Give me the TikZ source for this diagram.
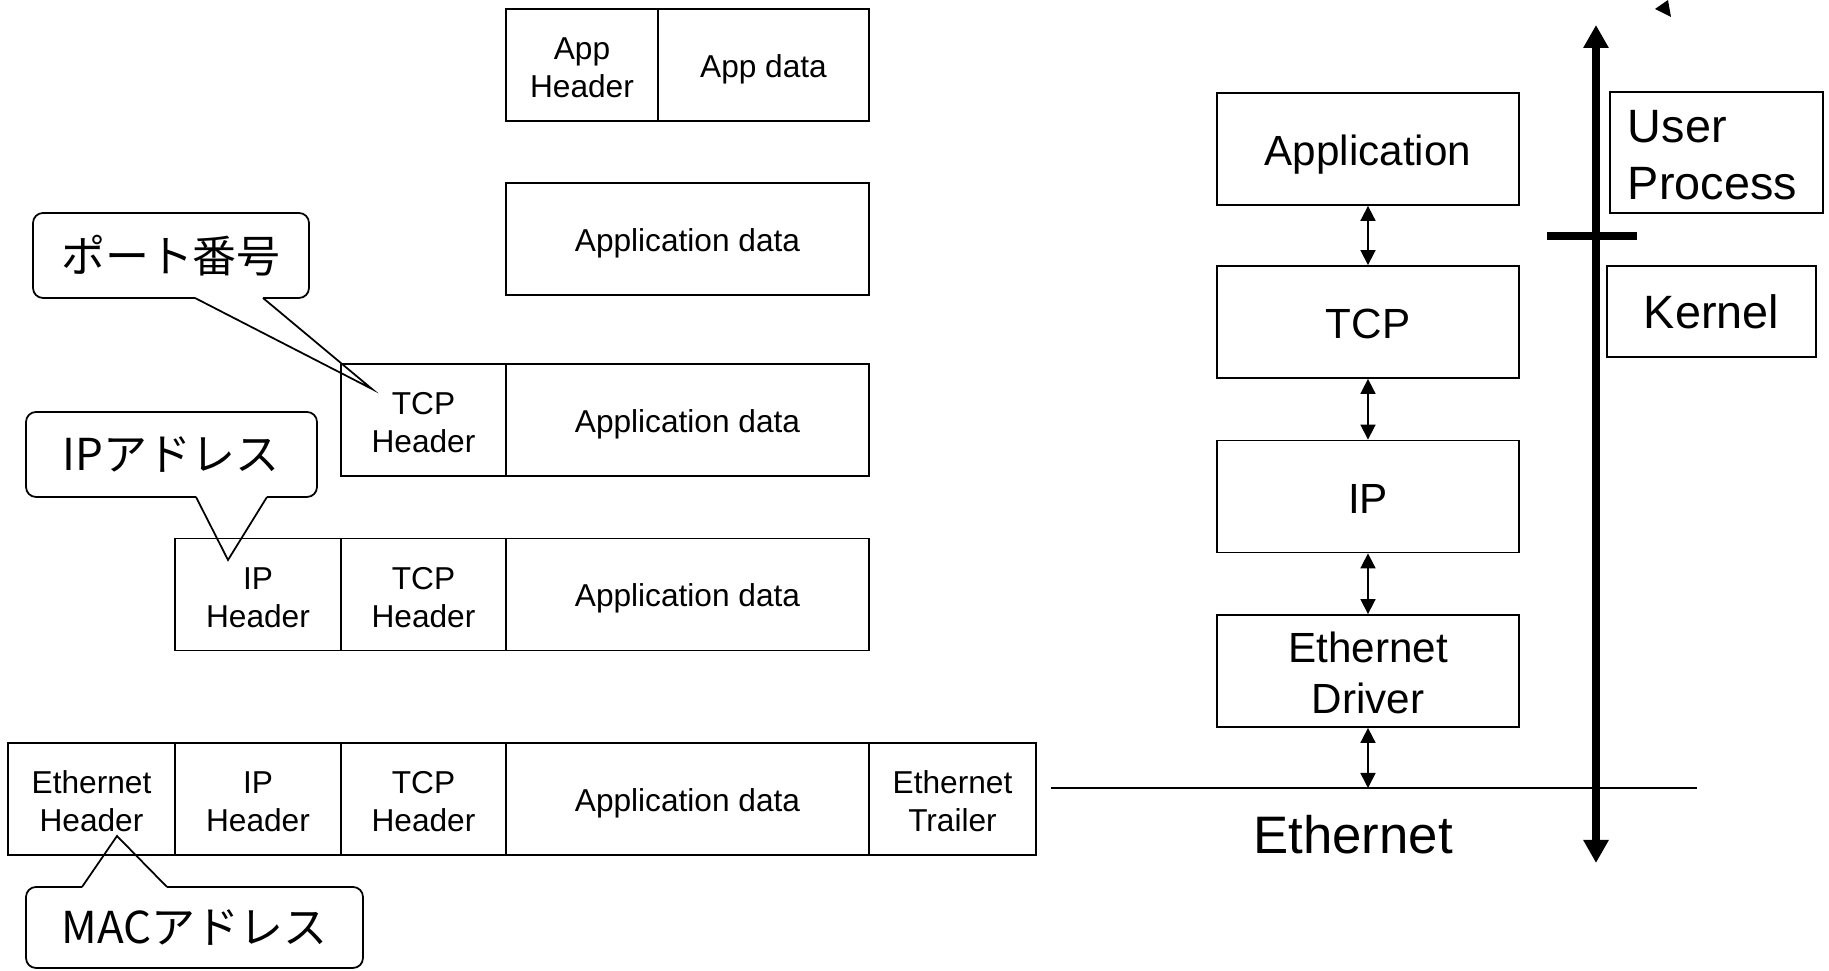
\documentclass[tikz,border=0pt]{standalone}
\usepackage{fontspec}
\setmainfont{Liberation Sans}
\newfontfamily\jpfont{Noto Sans CJK JP}
\usetikzlibrary{arrows.meta}

\begin{document}
\begin{tikzpicture}[x=0.01cm, y=-0.01cm,
    cell/.style={draw, line width=0.5pt, minimum height=1.12cm, inner sep=0pt, align=center, font=\fontsize{9}{10.8}\selectfont, text height=7pt, text depth=0pt},
    hdr/.style={cell, text width=#1, text height=7.8pt, text depth=10.8pt},
    hdr/.default=1.65cm,
    layer/.style={draw, line width=0.5pt, minimum width=3.02cm, minimum height=1.12cm, inner sep=0pt, align=center, font=\fontsize{12}{14.5}\selectfont, text height=9.4pt, text depth=0pt},
    side/.style={draw, line width=0.5pt, inner sep=0pt, font=\fontsize{13.3}{16.2}\selectfont},
    tag/.style={font=\jpfont\fontsize{12.5}{15}\selectfont},
    balloon/.style={line width=0.5pt, rounded corners=0.1cm},
    updown/.style={{Triangle[length=0.15cm,width=0.15cm]}-{Triangle[length=0.15cm,width=0.15cm]}, line width=0.5pt},
    bigarrow/.style={{Triangle[length=0.23cm,width=0.24cm]}-{Triangle[length=0.23cm,width=0.24cm]}, line width=2.3pt}]
    \useasboundingbox (0,0) rectangle (1829,971);

    % Draw packets, top to bottom
    \node[hdr=1.52cm] (r1ah) at (582,65) {App\\Header};
    \node[cell, minimum width=2.11cm] (r1ad) at (763.5,65) {App data};

    \node[cell, minimum width=3.63cm] (r2ad) at (687.5,239) {Application data};

    \node[hdr] (r3tcp) at (423.5,420) {TCP\\Header};
    \node[cell, minimum width=3.63cm] (r3ad) at (687.5,420) {Application data};

    \node[hdr=1.66cm] (r4ip) at (258,594.5) {IP\\Header};
    \node[hdr] (r4tcp) at (423.5,594.5) {TCP\\Header};
    \node[cell, minimum width=3.63cm] (r4ad) at (687.5,594.5) {Application data};

    \node[hdr=1.67cm] (r5eth) at (91.5,799) {Ethernet\\Header};
    \node[hdr=1.66cm] (r5ip) at (258,799) {IP\\Header};
    \node[hdr] (r5tcp) at (423.5,799) {TCP\\Header};
    \node[cell, minimum width=3.63cm] (r5ad) at (687.5,799) {Application data};
    \node[hdr=1.67cm] (r5trl) at (952.5,799) {Ethernet\\Trailer};

    % Draw callouts
    \node[tag] (port) at (171,255.5) {ポート番号};
    \draw[balloon] (195,298) -- (33,298) -- (33,213) -- (309,213) -- (309,298) -- (263,298);
    \draw[line width=0.5pt] (195,298) -- (372,389) -- (263,298);
    \node[tag] (ipaddr) at (171,454.5) {IPアドレス};
    \draw[balloon] (196,497) -- (26,497) -- (26,412) -- (317,412) -- (317,497) -- (267,497);
    \draw[line width=0.5pt] (196,497) -- (228,560) -- (267,497);
    \node[tag] (mac) at (194.5,928) {MACアドレス};
    \draw[balloon] (82,887) -- (26,887) -- (26,968) -- (363,968) -- (363,887) -- (167,887);
    \draw[line width=0.5pt] (82,887) -- (117,836) -- (167,887);

    % Draw protocol stack
    \node[layer] (app) at (1368,149) {Application};
    \node[layer] (tcp) at (1368,322) {TCP};
    \node[layer] (ip) at (1368,496.5) {IP};
    \node[layer, text width=3.02cm, text height=9.6pt, text depth=14.5pt] (drv) at (1368,671) {Ethernet\\Driver};
    \draw[updown] (app.south) -- (tcp.north);
    \draw[updown] (tcp.south) -- (ip.north);
    \draw[updown] (ip.south) -- (drv.north);

    % Draw wire
    \coordinate (ethL) at (1051,788);
    \coordinate (ethR) at (1697,788);
    \draw[line width=0.5pt] (ethL) -- (ethR);
    \draw[updown] (drv.south) -- (drv.south |- ethL);
    \node[font=\fontsize{15}{18}\selectfont] (ether) at (1353,835) {Ethernet};

    % Draw user/kernel boundary
    \coordinate (ktop) at (1596,25);
    \coordinate (kbot) at (1596,863);
    \draw[bigarrow] (kbot) -- (ktop);
    \coordinate (barL) at (1547,236);
    \coordinate (barR) at (1637,236);
    \draw[line width=2.3pt] (barL) -- (barR);
    \node[side, align=left, text width=1.77cm, inner xsep=0.18cm, minimum height=1.21cm, text height=10.5pt, text depth=16.2pt] (user) at (1716.5,152.5) {User\\Process};
    \node[side, minimum width=2.09cm, minimum height=0.91cm, text height=9.5pt, text depth=0pt] (kernel) at (1711.5,311.5) {Kernel};
    \fill (1655,9) -- (1668,0) -- (1671,17) -- cycle;
\end{tikzpicture}
\end{document}
